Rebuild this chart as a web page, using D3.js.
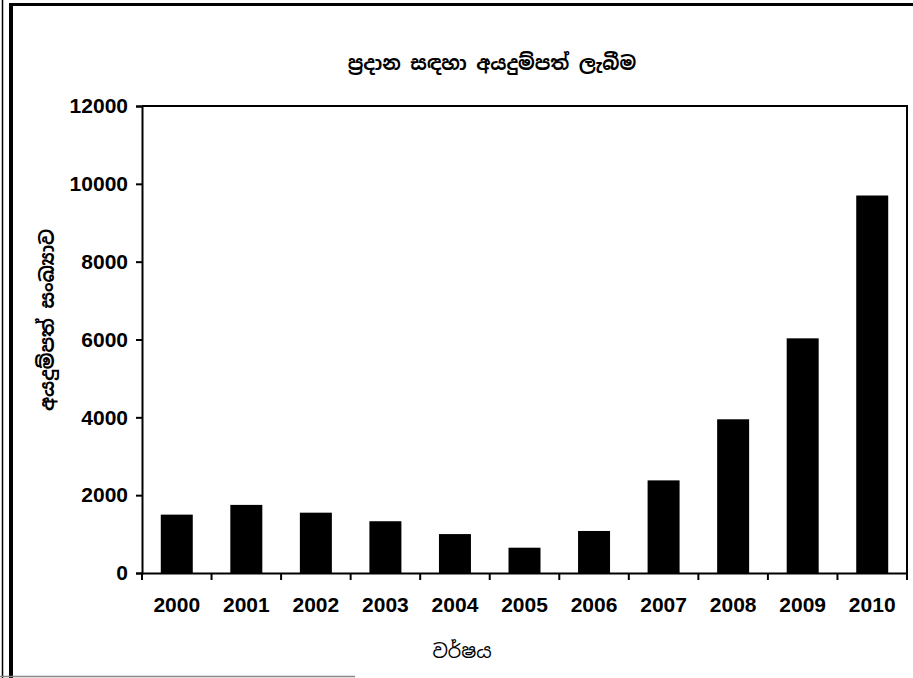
<!DOCTYPE html>
<html>
<head>
<meta charset="utf-8">
<script src="https://cdn.jsdelivr.net/npm/d3@7"></script>
<style>
  body { margin: 0; background: #fff; }
  .tick text { font-family: "Liberation Sans", Arial, sans-serif; font-weight: bold; font-size: 21px; fill: #000; }
  .sin { font-family: "Iskoola Pota", "Noto Sans Sinhala", "Noto Serif Sinhala", sans-serif; fill: #000; }
</style>
</head>
<body>
<div id="vis"></div>
<script>
var w = 913;
var h = 678;

// chart data
var years = ['2000', '2001', '2002', '2003', '2004', '2005', '2006', '2007', '2008', '2009', '2010'];
var applications = [1500, 1750, 1550, 1330, 1000, 650, 1080, 2380, 3950, 6030, 9700];
var yTicks = [0, 2000, 4000, 6000, 8000, 10000, 12000];

var title = 'ප්‍රදාන සඳහා අයදුම්පත් ලැබීම';
var xTitle = 'වර්ෂය';
var yTitle = 'අයදුම්පත් සංඛ්‍යාව';

// plot box (note: "top" is taken by window.top)
var plotLeft = 142, plotRight = 907, plotTop = 106, plotBottom = 573;

var svg = d3.select('#vis')
  .append('svg')
    .attr('width', w)
    .attr('height', h);

// scanned page frame
svg.append('line').attr('x1', 2.5).attr('x2', 2.5).attr('y1', 0).attr('y2', h)
  .style('stroke', '#000').style('stroke-width', 1.5);
svg.append('line').attr('x1', 11).attr('x2', 11).attr('y1', 3).attr('y2', h)
  .style('stroke', '#000').style('stroke-width', 4);
svg.append('line').attr('x1', 9).attr('x2', w).attr('y1', 4.5).attr('y2', 4.5)
  .style('stroke', '#000').style('stroke-width', 3);
svg.append('line').attr('x1', 0).attr('x2', 355).attr('y1', 676.5).attr('y2', 676.5)
  .style('stroke', '#888').style('stroke-width', 1.5);

var x = d3.scaleBand()
  .domain(years)
  .range([plotLeft, plotRight])
  .paddingInner(0.54)
  .paddingOuter(0.27);

var y = d3.scaleLinear()
  .domain([0, 12000])
  .range([plotBottom, plotTop]);

// plot frame (top and right)
svg.append('path')
  .attr('d', 'M' + plotLeft + ',' + plotTop + 'H' + plotRight + 'V' + plotBottom)
  .style('fill', 'none')
  .style('stroke', '#000')
  .style('stroke-width', 2);

svg.selectAll('rect.bar')
  .data(applications)
  .enter()
  .append('rect')
    .attr('class', 'bar')
    .attr('x', function(d, i) { return x(years[i]); })
    .attr('width', x.bandwidth())
    .attr('y', function(d) { return y(d); })
    .attr('height', function(d) { return plotBottom - y(d); })
    .style('fill', '#000');

var yAxis = svg.append('g')
  .attr('transform', 'translate(' + plotLeft + ',0)')
  .call(d3.axisLeft(y).tickValues(yTicks).tickSize(6).tickPadding(8).tickFormat(d3.format('d')));

var xAxis = svg.append('g')
  .attr('transform', 'translate(0,' + plotBottom + ')')
  .call(d3.axisBottom(x).tickSize(0).tickPadding(24));

// x ticks sit on the band edges
xAxis.selectAll('.tick-edge')
  .data(years.concat(['end']))
  .enter()
  .append('line')
    .attr('class', 'tick-edge')
    .attr('x1', function(d, i) { return plotLeft + i * x.step(); })
    .attr('x2', function(d, i) { return plotLeft + i * x.step(); })
    .attr('y1', 0)
    .attr('y2', 7)
    .style('stroke', '#000')
    .style('stroke-width', 2);

[xAxis, yAxis].forEach(function(g) {
  g.select('.domain').style('stroke', '#000').style('stroke-width', 2);
  g.selectAll('.tick line').style('stroke', '#000').style('stroke-width', 2);
});

svg.append('text')
  .attr('class', 'sin')
  .attr('x', 492)
  .attr('y', 70)
  .attr('text-anchor', 'middle')
  .style('font-size', '19px')
  .style('font-weight', 'bold')
  .text(title);

svg.append('text')
  .attr('class', 'sin')
  .attr('x', 462)
  .attr('y', 658)
  .attr('text-anchor', 'middle')
  .style('font-size', '19px')
  .text(xTitle);

svg.append('text')
  .attr('class', 'sin')
  .attr('transform', 'translate(54,320) rotate(-90)')
  .attr('text-anchor', 'middle')
  .style('font-size', '19px')
  .style('font-weight', 'bold')
  .text(yTitle);
</script>
</body>
</html>
